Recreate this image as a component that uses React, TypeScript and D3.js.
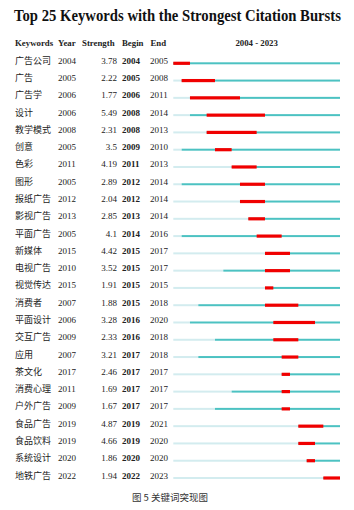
import { useEffect, useRef } from "react";
import * as d3 from "d3";

const keywords = [
  "广告公司", "广告", "广告学", "设计", "教学模式", "创意", "色彩", "图形", "报纸广告",
  "影视广告", "平面广告", "新媒体", "电视广告", "视觉传达", "消费者", "平面设计", "交互广告",
  "应用", "茶文化", "消费心理", "户外广告", "食品广告", "食品饮料", "系统设计", "地铁广告",
];
const years = [
  2004, 2005, 2006, 2006, 2008, 2005, 2011, 2005, 2012, 2013, 2005, 2015, 2010, 2015, 2007,
  2006, 2009, 2007, 2017, 2011, 2009, 2019, 2019, 2020, 2022,
];
const strengths = [
  "3.78", "2.22", "1.77", "5.49", "2.31", "3.5", "4.19", "2.89", "2.04", "2.85", "4.1", "4.42",
  "3.52", "1.91", "1.88", "3.28", "2.33", "3.21", "2.46", "1.69", "1.67", "4.87", "4.66", "1.86",
  "1.94",
];
const begins = [
  2004, 2005, 2006, 2008, 2008, 2009, 2011, 2012, 2012, 2013, 2014, 2015, 2015, 2015, 2015,
  2016, 2016, 2017, 2017, 2017, 2017, 2019, 2019, 2020, 2022,
];
const ends = [
  2005, 2008, 2011, 2014, 2013, 2010, 2013, 2014, 2014, 2014, 2016, 2017, 2017, 2015, 2018,
  2020, 2018, 2018, 2017, 2017, 2017, 2021, 2020, 2020, 2023,
];
const firstYear = 2004;
const lastYear = 2023;

const W = 354;
const H = 510;

export default function App() {
  const ref = useRef<HTMLDivElement | null>(null);

  useEffect(() => {
    if (!ref.current) return;
    d3.select(ref.current).selectAll("svg").remove();

    const svg = d3
      .select(ref.current)
      .append("svg")
      .attr("width", W)
      .attr("height", H)
      .style("display", "block")
      .style("background", "#fff");

    const serif = "'Liberation Serif', 'Times New Roman', serif";
    const cjk = "'Noto Sans CJK SC', sans-serif";
    const ink = "#222";

    const x = d3.scaleLinear([firstYear, lastYear + 1], [173.3, 340]);
    const y = d3
      .scalePoint<number>()
      .domain(d3.range(keywords.length))
      .range([63.3, 478]);

    // title: narrow font size, stretched vertically like the reference
    svg
      .append("text")
      .attr("transform", "translate(177.5,21) scale(1,1.15)")
      .attr("text-anchor", "middle")
      .attr("font-family", serif)
      .attr("font-weight", "bold")
      .attr("font-size", 14.7)
      .attr("fill", "#111")
      .text("Top 25 Keywords with the Strongest Citation Bursts");

    const header = svg
      .append("g")
      .attr("font-family", serif)
      .attr("font-weight", "bold")
      .attr("font-size", 8.8)
      .attr("fill", ink);
    const headers: [string, number, string][] = [
      ["Keywords", 15, "start"],
      ["Year", 58, "start"],
      ["Strength", 82, "start"],
      ["Begin", 122, "start"],
      ["End", 150.5, "start"],
      [`${firstYear} - ${lastYear}`, x(firstYear + 10), "middle"],
    ];
    headers.forEach(([t, hx, anchor]) => {
      header
        .append("text")
        .attr("x", hx)
        .attr("y", 46)
        .attr("text-anchor", anchor)
        .text(t);
    });

    const rows = svg
      .append("g")
      .selectAll("g")
      .data(d3.range(keywords.length))
      .join("g")
      .attr("transform", (i) => `translate(0,${y(i)})`);

    rows
      .append("text")
      .attr("x", 15)
      .attr("y", 0.5)
      .attr("font-family", cjk)
      .attr("font-size", 9)
      .attr("fill", ink)
      .text((i) => keywords[i]);

    rows
      .append("text")
      .attr("x", 58)
      .attr("y", 0.5)
      .attr("font-family", serif)
      .attr("font-size", 9)
      .attr("fill", ink)
      .text((i) => years[i]);

    rows
      .append("text")
      .attr("x", 117)
      .attr("y", 0.5)
      .attr("text-anchor", "end")
      .attr("font-family", serif)
      .attr("font-size", 9)
      .attr("fill", ink)
      .text((i) => strengths[i]);

    rows
      .append("text")
      .attr("x", 122)
      .attr("y", 0.5)
      .attr("font-family", serif)
      .attr("font-weight", "bold")
      .attr("font-size", 9)
      .attr("fill", ink)
      .text((i) => begins[i]);

    rows
      .append("text")
      .attr("x", 150)
      .attr("y", 0.5)
      .attr("font-family", serif)
      .attr("font-size", 9)
      .attr("fill", ink)
      .text((i) => ends[i]);

    // light segment before the keyword first appears
    rows
      .append("rect")
      .attr("x", x(firstYear))
      .attr("y", -1)
      .attr("width", (i) => x(years[i]) - x(firstYear))
      .attr("height", 2)
      .attr("fill", "#d3ecef");

    // active segment
    rows
      .append("rect")
      .attr("x", (i) => x(years[i]))
      .attr("y", -1)
      .attr("width", (i) => x(lastYear + 1) - x(years[i]))
      .attr("height", 2)
      .attr("fill", "#4cc2c2");

    // burst segment
    rows
      .append("rect")
      .attr("x", (i) => x(begins[i]))
      .attr("y", -1.6)
      .attr("width", (i) => x(ends[i] + 1) - x(begins[i]))
      .attr("height", 3.2)
      .attr("fill", "#f00000");

    svg
      .append("text")
      .attr("x", 170)
      .attr("y", 501)
      .attr("text-anchor", "middle")
      .attr("font-family", cjk)
      .attr("font-size", 9.5)
      .attr("fill", "#333")
      .text("图 5 关键词突现图");
  }, []);

  return <div ref={ref} style={{ margin: -8 }} />;
}
